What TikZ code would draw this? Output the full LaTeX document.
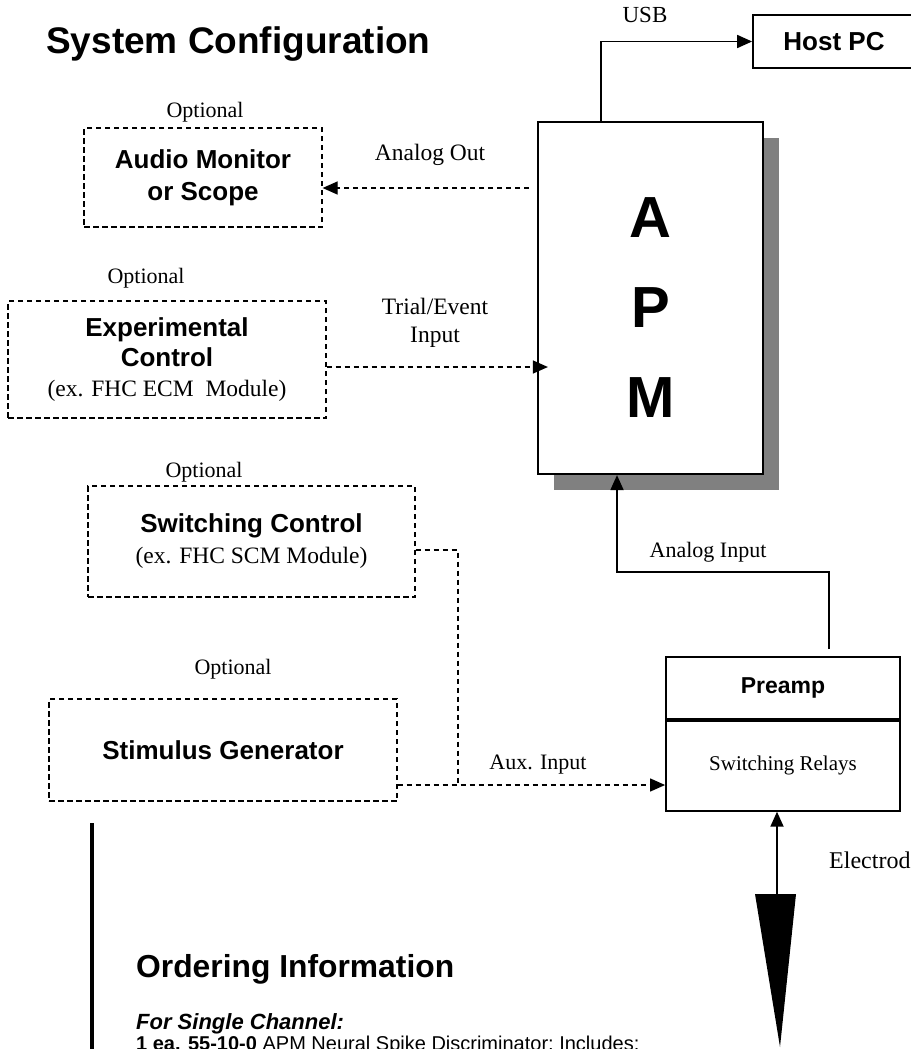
\documentclass[tikz,border=0pt]{standalone}
\usepackage{fontspec}
\setmainfont{Liberation Serif}
\setsansfont{Liberation Sans}
\usepackage{xcolor}
\usepackage{tikz}
\usetikzlibrary{arrows.meta, positioning, calc, shadows}
\definecolor{shadowgray}{RGB}{128,128,128}
\newcommand{\fsz}[2]{\fontsize{#1}{#2}\selectfont}

\begin{document}
\begin{tikzpicture}[x=1pt, y=-1pt,
        box/.style={rectangle, draw, line width=1.8pt, inner sep=0pt, align=center, fill=white},
        optbox/.style={rectangle, draw, line width=1.2pt, dash pattern=on 5.5pt off 3.5pt, inner sep=0pt, align=center},
        lbl/.style={inner sep=0pt, align=center, font=\fsz{22}{28}},
        arrow/.style={-{Triangle[length=15pt, width=13pt]}, line width=1.8pt},
        dasharrow/.style={-{Triangle[length=15pt, width=13pt]}, line width=1.2pt, dash pattern=on 5.5pt off 3.5pt},
        dashline/.style={line width=1.2pt, dash pattern=on 5.5pt off 3.5pt},
        node distance=4pt
    ]
        \useasboundingbox (0,0) rectangle (910,1049);

        \node[anchor=base west, inner sep=0pt, font=\sffamily\bfseries\fsz{37}{42}] (title) at (46,53) {System Configuration};

        % main units
        \node[box, minimum width=162pt, minimum height=53pt, font=\sffamily\bfseries\fsz{26}{30}] (host) at (834,41.5) {Host PC};
        \node[box, line width=2.2pt, minimum width=225pt, minimum height=352pt,
              general shadow={fill=shadowgray, shadow xshift=16pt, shadow yshift=-16pt}] (apm) at (650.5,298) {};
        \node[inner sep=0pt, align=center, font=\sffamily\bfseries\fsz{58}{90}] (apmtext) at ($(apm.center)+(0,10)$) {A\\P\\M};
        \node[box, minimum width=234pt, minimum height=62pt, font=\sffamily\bfseries\fsz{23}{28}] (preamp) at (783,688) {Preamp};
        \node[box, minimum width=234pt, minimum height=90pt, font=\fsz{21}{26}, below=0pt of preamp] (relays) {Switching Relays};

        % optional units
        \node[optbox, minimum width=238pt, minimum height=99pt, font=\sffamily\bfseries\fsz{26}{32}] (audio) at (203,177.5) {Audio Monitor\\or Scope};
        \node[optbox, minimum width=318pt, minimum height=117pt, font=\sffamily\bfseries\fsz{26}{30}] (expctl) at (167,359.5) {Experimental\\Control\\\rmfamily\mdseries\fsz{23.5}{30}(ex. FHC ECM\ \ Module)};
        \node[optbox, minimum width=327pt, minimum height=111pt, font=\sffamily\bfseries\fsz{26}{31}] (swctl) at (251.5,541.5) {Switching Control\\\rmfamily\mdseries\fsz{23.5}{31}(ex. FHC SCM Module)};
        \node[optbox, minimum width=348pt, minimum height=102pt, font=\sffamily\bfseries\fsz{26}{30}] (stim) at (223,750) {Stimulus Generator};

        \node[lbl, above=5.5pt of audio.north, xshift=2pt] (optaudio) {Optional};
        \node[lbl, above=12.5pt of expctl.north, xshift=-21pt] (optexp) {Optional};
        \node[lbl, above=3.5pt of swctl.north, xshift=-47.5pt] (optsw) {Optional};
        \node[lbl, above=19.5pt of stim.north, xshift=10pt] (optstim) {Optional};

        % connections
        \draw[arrow] ($(apm.north west)+(64,0)$) |- (host.west);
        \node[lbl, font=\fsz{23}{28}] (usb) at (645,15) {USB};

        \coordinate (aout) at (529,188);
        \draw[dasharrow] (aout) -- (aout -| audio.east);
        \node[lbl, font=\fsz{23.5}{28}] (aoutlbl) at (430,155) {Analog Out};

        \draw[dasharrow, shorten >=-11pt] (expctl.east |- 0,367) -- (apm.west |- 0,367);
        \node[lbl, font=\fsz{23.5}{28}] (triallbl) at (435,323) {Trial/Event\\Input};

        \coordinate (aincorner) at (617,572);
        \draw[arrow] ($(preamp.north)+(46,-7)$) |- (aincorner) -- (aincorner |- apm.south);
        \node[lbl] (ainlbl) at (708,552) {Analog Input};

        \coordinate (auxjoin) at (458,785);
        \draw[dashline] (swctl.east |- 0,550) -| (auxjoin);
        \draw[dasharrow] (stim.east |- auxjoin) -- (relays.west |- auxjoin);
        \node[lbl] (auxlbl) at (538,765) {Aux. Input};

        \coordinate (probe) at (777,895);
        \draw[arrow] (probe) -- (probe |- relays.south);
        \fill ($(probe)+(-22,-1)$) -- ($(probe)+(19,-1)$) -- ($(probe)+(3,152)$) -- cycle;
        \node[lbl, anchor=west, font=\fsz{24}{28}] (electrode) at (829,860) {Electrode};

        % ordering info
        \draw[line width=3.5pt] (92,823) -- (92,1060);
        \node[anchor=base west, inner sep=0pt, font=\sffamily\bfseries\fsz{31.8}{36}] (ordering) at (136,977) {Ordering Information};
        \node[anchor=base west, inner sep=0pt, font=\sffamily\bfseries\itshape\fsz{22}{26}] (single) at (136,1029) {For Single Channel:};
        \node[anchor=base west, inner sep=0pt, font=\sffamily\fsz{20}{24}] (item) at (136,1050) {\textbf{1 ea. 55-10-0} APM Neural Spike Discriminator; Includes:};
    \end{tikzpicture}
\end{document}
